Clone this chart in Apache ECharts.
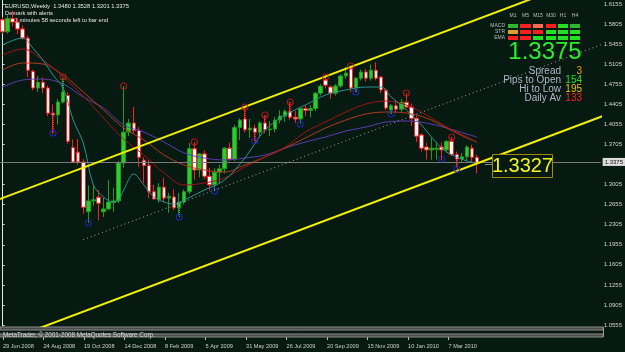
<!DOCTYPE html>
<html>
<head>
<meta charset="utf-8">
<script src="https://cdn.jsdelivr.net/npm/echarts@6/dist/echarts.min.js"></script>
<style>
html,body{margin:0;padding:0;background:#061a12;}
#chart{width:625px;height:352px;}
</style>
</head>
<body>
<div id="chart"></div>
<script>
// ---------------- DATA ----------------
const symbolTitle = 'EURUSD,Weekly  1.3480 1.3528 1.3201 1.3375';
const indicatorName = 'Demark with alerts';
const timerText = '3 h 1 minutes 58 seconds left to bar end';
const copyrightText = 'MetaTrader, \u00A9 2001-2008 MetaQuotes Software Corp.';

const xTickLabels = ['29 Jun 2008','24 Aug 2008','19 Oct 2008','14 Dec 2008','8 Feb 2009','5 Apr 2009',
  '31 May 2009','26 Jul 2009','20 Sep 2009','15 Nov 2009','10 Jan 2010','7 Mar 2010'];
const xTickEvery = 8;
const yTickLabels = ['1.6155','1.5805','1.5455','1.5105','1.4755','1.4405','1.4055','1.3705',
  '1.3005','1.2655','1.2305','1.1955','1.1605','1.1255','1.0905','1.0555'];

const opens = [1.5880,1.5670,1.5900,1.5840,1.5720,1.5560,1.4980,1.4690,1.4790,1.4690,
1.4250,1.4220,1.4445,1.4560,1.3650,1.3570,1.3400,1.2530,1.2720,1.2785,
1.2530,1.2580,1.2690,1.2720,1.3380,1.3922,1.4080,1.3950,1.3430,1.3340,
1.2880,1.2740,1.2960,1.2770,1.2790,1.2600,1.2700,1.2880,1.3630,1.3260,
1.3540,1.3150,1.3000,1.3220,1.3280,1.3640,1.3450,1.4000,1.4150,1.3960,
1.3990,1.3920,1.4080,1.3960,1.3975,1.4130,1.4200,1.4280,1.4180,1.4150,
1.4330,1.4300,1.4330,1.4600,1.4830,1.4707,1.4600,1.4725,1.4900,1.5040,
1.4690,1.4860,1.4970,1.4860,1.5000,1.4880,1.4650,1.4306,1.4380,1.4320,
1.4440,1.4360,1.4160,1.3870,1.3660,1.3610,1.3620,1.3660,1.3610,1.3760,
1.3530,1.3450,1.3490,1.3640,1.3480];
const closes = [1.5670,1.5900,1.5840,1.5720,1.5560,1.5000,1.4690,1.4790,1.4690,1.4250,
1.4220,1.4445,1.4620,1.3760,1.3400,1.3400,1.2610,1.2720,1.2740,1.2680,
1.2580,1.2700,1.2720,1.3380,1.3920,1.4080,1.3950,1.3480,1.3340,1.2880,
1.2755,1.2960,1.2770,1.2800,1.2600,1.2700,1.2880,1.3630,1.3260,1.3540,
1.3150,1.3000,1.3220,1.3280,1.3640,1.3450,1.4000,1.4130,1.3960,1.3990,
1.3920,1.4080,1.3960,1.3975,1.4130,1.4200,1.4280,1.4180,1.4150,1.4330,
1.4300,1.4330,1.4600,1.4720,1.4740,1.4602,1.4725,1.4900,1.4950,1.4690,
1.4860,1.4970,1.4860,1.5000,1.4860,1.4655,1.4340,1.4380,1.4320,1.4440,
1.4360,1.4160,1.3850,1.3640,1.3610,1.3640,1.3640,1.3610,1.3760,1.3530,
1.3450,1.3490,1.3660,1.3480,1.3375];
const lows = [1.5640,1.5640,1.5760,1.5630,1.5530,1.4880,1.4650,1.4620,1.4600,1.4200,
1.3890,1.4050,1.4420,1.3720,1.3380,1.3350,1.2500,1.2335,1.2640,1.2380,
1.2440,1.2560,1.2530,1.2680,1.3300,1.3850,1.3900,1.3310,1.3030,1.2770,
1.2740,1.2690,1.2700,1.2510,1.2560,1.2460,1.2660,1.2840,1.3090,1.3130,
1.3100,1.2900,1.2890,1.3030,1.3200,1.3420,1.3420,1.3780,1.3920,1.3820,
1.3760,1.3830,1.3900,1.3850,1.3920,1.4070,1.4100,1.4140,1.4080,1.4060,
1.4200,1.4180,1.4290,1.4560,1.4680,1.4500,1.4560,1.4690,1.4850,1.4620,
1.4620,1.4820,1.4800,1.4820,1.4820,1.4600,1.4300,1.4250,1.4250,1.4260,
1.4330,1.4030,1.3750,1.3580,1.3440,1.3440,1.3440,1.3430,1.3560,1.3500,
1.3300,1.3380,1.3420,1.3400,1.3201];
const highs = [1.5930,1.5960,1.6038,1.5900,1.5780,1.5600,1.5010,1.4900,1.4870,1.4730,
1.4400,1.4500,1.4870,1.4620,1.3790,1.3800,1.3450,1.2990,1.3000,1.2910,
1.2780,1.3085,1.2950,1.3420,1.4725,1.4150,1.4360,1.4010,1.3480,1.3430,
1.3000,1.3030,1.3120,1.2860,1.2920,1.2860,1.2920,1.3730,1.3740,1.3560,
1.3600,1.3300,1.3290,1.3350,1.3660,1.3740,1.4050,1.4160,1.4340,1.4150,
1.4050,1.4110,1.4210,1.4110,1.4180,1.4300,1.4320,1.4445,1.4290,1.4360,
1.4380,1.4390,1.4620,1.4760,1.4880,1.4740,1.4760,1.4930,1.5060,1.5080,
1.4880,1.5010,1.5020,1.5100,1.5140,1.4900,1.4680,1.4410,1.4470,1.4500,
1.4580,1.4420,1.4200,1.3900,1.3730,1.3820,1.3750,1.3740,1.3780,1.3830,
1.3580,1.3560,1.3690,1.3700,1.3528];

// moving averages, read at sample bars
const tealIdx = [0,4,6,8,10,12,14,16,18,20,22,23,24,26,28,30,32,34,36,40,44,48,52,56,60,64,68,72,75,77,80,83,86,88,90,92,94];
const tealMA  = [1.5440,1.5562,1.5387,1.5178,1.4916,1.4690,1.4131,1.3730,1.2998,1.2788,1.2701,1.2736,1.2910,1.3190,1.2998,1.2788,1.2701,1.2666,1.2736,1.2910,1.3085,1.3468,1.3957,1.4219,1.4393,1.4568,1.4655,1.4707,1.4707,1.4533,1.4306,1.4044,1.3730,1.3573,1.3486,1.3416,1.3381];
const slowIdx = [0,4,8,12,16,20,24,28,32,36,40,44,48,52,56,60,64,68,72,76,80,84,88,92,94];
const redMA    = [1.5265,1.5370,1.5178,1.4882,1.4550,1.4166,1.3800,1.3521,1.3207,1.2998,1.3033,1.3120,1.3311,1.3486,1.3660,1.3922,1.4097,1.4271,1.4411,1.4463,1.4393,1.4219,1.4009,1.3835,1.3748];
const brownMA  = [1.5004,1.5126,1.5108,1.4916,1.4620,1.4306,1.3992,1.3783,1.3521,1.3346,1.3259,1.3224,1.3346,1.3486,1.3643,1.3818,1.3992,1.4131,1.4236,1.4271,1.4254,1.4166,1.3992,1.3818,1.3748];
const purpleMA = [1.4707,1.4829,1.4847,1.4760,1.4533,1.4341,1.4044,1.3922,1.3748,1.3556,1.3468,1.3434,1.3468,1.3521,1.3643,1.3748,1.3835,1.3940,1.4009,1.4097,1.4114,1.4079,1.3992,1.3887,1.3835];

// Demark points
const tdHighIdx = [12,24,38,48,52,57,64,69,80,89];
const tdHighVal = [1.4882,1.4725,1.3748,1.4358,1.4219,1.4446,1.4882,1.5074,1.4603,1.3835];
const tdLowIdx  = [10,17,35,42,50,59,70,77,87,90];
const tdLowVal  = [1.3905,1.2335,1.2439,1.2893,1.3765,1.4062,1.4620,1.4236,1.3451,1.3277];

// equidistant channel (bar index, price)
const channelUpper = [[-1,1.2737],[120,1.6748]];
const channelLower = [[-1,1.0225],[120,1.4236]];
const channelMid   = [[16,1.2045],[120,1.5492]];
const channelLabel = '1.3327';

const bid = 1.3375;
const bidText = '1.3375';
const spread = '3', pipsToOpen = '154', hiToLow = '195', dailyAv = '133';
const tfNames = ['M1','M5','M15','M30','H1','H4'];
const rowNames = ['MACD','STR','EMA'];
const signalRows = [
  ['upH','dn','dnL','dn','up','upH'],
  ['warnH','dn','dn','up','up','up'],
  ['dn','dn','up','up','up','up']
];

// ---------------- CHART ----------------
const N = 119;
const categories = Array.from({length: N}, (_, i) => String(i));
const candles = opens.map((o, i) => [o, closes[i], lows[i], highs[i]]);
const pair = (idx, vals) => idx.map((x, i) => [x, vals[i]]);
const FONT = '"Liberation Sans", Arial, sans-serif';
const yTickVals = yTickLabels.map(Number);
const tickShown = (i) => i % xTickEvery === 0 && (i / xTickEvery) < xTickLabels.length;
const BULL = '#2ccc2c', BEAR = '#ff2020';

const connectors = [];
tdHighIdx.forEach((b, k) => connectors.push({coords: [[b, tdHighVal[k]], [b, Math.max(opens[b], closes[b])]],
  lineStyle: {color: closes[b] >= opens[b] ? BULL : BEAR}}));
tdLowIdx.forEach((b, k) => connectors.push({coords: [[b, tdLowVal[k]], [b, Math.min(opens[b], closes[b])]],
  lineStyle: {color: closes[b] >= opens[b] ? BULL : BEAR}}));

const chart = echarts.init(document.getElementById('chart'), null, {renderer: 'canvas'});

function maSeries(idx, vals, color) {
  return {type: 'line', xAxisIndex: 1, yAxisIndex: 0, data: pair(idx, vals), smooth: 0.35,
    showSymbol: false, symbol: 'none', lineStyle: {color, width: 1}, z: 4, silent: true, clip: true};
}
function chanSeries(d, color, width, type) {
  return {type: 'line', xAxisIndex: 1, yAxisIndex: 0, data: d, showSymbol: false, symbol: 'none',
    lineStyle: {color, width, type}, z: 5, silent: true, clip: true};
}

const sigColor = {up: '#22e022', upH: '#2fb82f', dn: '#ff1e1e', dnL: '#ff6a50', warnH: '#e0a028'};
const panel = [];
const colX = [508, 520, 533, 546, 558, 570];
const colW = [10, 11, 10, 10, 10, 10];
const rowY = [24, 30, 36];
tfNames.forEach((t, c) => panel.push({type: 'text', x: colX[c] + colW[c] / 2, y: 16, z: 10,
  style: {text: t, fill: '#bdbdbd', font: '5px ' + FONT, textAlign: 'center', textVerticalAlign: 'middle'}}));
rowNames.forEach((r, k) => panel.push({type: 'text', x: 505, y: rowY[k] + 2, z: 10,
  style: {text: r, fill: '#bdbdbd', font: '5px ' + FONT, textAlign: 'right', textVerticalAlign: 'middle'}}));
signalRows.forEach((row, k) => row.forEach((s, c) => panel.push({type: 'rect', z: 10,
  shape: {x: colX[c], y: rowY[k], width: colW[c], height: 4}, style: {fill: sigColor[s]}})));

const infoRows = [['Spread', spread, '#f0a010'], ['Pips to Open', pipsToOpen, '#22e022'],
  ['Hi to Low', hiToLow, '#f0c000'], ['Daily Av', dailyAv, '#ff2020']];
const infoY = [71, 80.5, 89.5, 98.5];
infoRows.forEach((r, k) => {
  panel.push({type: 'text', x: 561, y: infoY[k], z: 10,
    style: {text: r[0], fill: '#b4b4c8', font: '10px ' + FONT, textAlign: 'right', textVerticalAlign: 'middle'}});
  panel.push({type: 'text', x: 582, y: infoY[k], z: 10,
    style: {text: r[1], fill: r[2], font: '10px ' + FONT, textAlign: 'right', textVerticalAlign: 'middle'}});
});
panel.push({type: 'text', x: 545, y: 52, z: 10,
  style: {text: bidText, fill: '#2cf02c', font: '24px ' + FONT, textAlign: 'center', textVerticalAlign: 'middle'}});

const graphics = [
  {type: 'text', x: 5, y: 6, z: 1, style: {text: symbolTitle, fill: '#e6e6e6', font: '5.8px ' + FONT, textVerticalAlign: 'middle'}},
  {type: 'text', x: 5, y: 13, z: 1, style: {text: indicatorName, fill: '#e6e6e6', font: '5.8px ' + FONT, textVerticalAlign: 'middle'}},
  {type: 'text', x: 5, y: 20.5, z: 1, style: {text: timerText, fill: '#e6e6e6', font: '5.8px ' + FONT, textVerticalAlign: 'middle'}},
  {type: 'rect', z: 1, shape: {x: 0, y: 327, width: 603, height: 3}, style: {fill: '#4a4a4a', stroke: '#8a8a8a', lineWidth: 1}},
  {type: 'rect', z: 1, shape: {x: 0, y: 334, width: 603, height: 3}, style: {fill: '#4a4a4a', stroke: '#8a8a8a', lineWidth: 1}},
  {type: 'line', z: 1, shape: {x1: 603.5, y1: 327, x2: 603.5, y2: 337}, style: {stroke: '#9a9a9a', lineWidth: 1}},
  {type: 'text', x: 3, y: 335, z: 2, style: {text: copyrightText, fill: '#d8d8d8', font: '6.3px ' + FONT, textVerticalAlign: 'middle'}},
  {type: 'line', z: 8, shape: {x1: 485, y1: 164.5, x2: 492, y2: 164.5}, style: {stroke: '#8a8a8a', lineWidth: 1}},
  {type: 'rect', z: 8, shape: {x: 492.5, y: 154.5, width: 60, height: 23}, style: {fill: '#061a12', stroke: '#a08a10', lineWidth: 1}},
  {type: 'text', x: 522.5, y: 166.5, z: 9, style: {text: channelLabel, fill: '#f4f41c', font: '20px ' + FONT, textAlign: 'center', textVerticalAlign: 'middle'}}
].concat(panel);

const option = {
  backgroundColor: '#061a12',
  animation: false,
  textStyle: {fontFamily: FONT},
  grid: [
    {left: 0, right: 22, top: 0, height: 326},
    {left: 0, right: 22, top: 330, height: 6}
  ],
  xAxis: [
    {type: 'category', gridIndex: 0, data: categories, boundaryGap: true, show: false},
    {type: 'value', gridIndex: 0, min: -0.5, max: N - 0.5, show: false},
    {type: 'category', gridIndex: 1, data: categories, boundaryGap: true, position: 'bottom',
      axisLine: {show: false},
      axisTick: {show: true, alignWithLabel: true, interval: tickShown, length: 4, lineStyle: {color: '#bdbdbd'}},
      axisLabel: {show: true, interval: tickShown, formatter: (v, i) => xTickLabels[i / xTickEvery] || '',
        align: 'left', fontSize: 5.6, color: '#d0d0d0', margin: 7, fontFamily: FONT},
      splitLine: {show: false}}
  ],
  yAxis: [
    {type: 'value', gridIndex: 0, position: 'right', min: 1.0538, max: 1.6225,
      splitLine: {show: false},
      axisLine: {show: true, lineStyle: {color: '#e8e8e8', width: 1}},
      axisTick: {show: true, length: 2, customValues: yTickVals, lineStyle: {color: '#e8e8e8'}},
      axisLabel: {show: true, customValues: yTickVals, formatter: (v) => Number(v).toFixed(4),
        fontSize: 6, color: '#cfcfcf', margin: 3, fontFamily: FONT}},
    {type: 'value', gridIndex: 1, show: false}
  ],
  series: [
    {type: 'candlestick', xAxisIndex: 0, yAxisIndex: 0, data: candles, barWidth: 4, z: 3,
      itemStyle: {color: BULL, color0: '#ffffff', borderColor: '#1f9c1f', borderColor0: BEAR, borderWidth: 1},
      markLine: {silent: true, symbol: ['none', 'none'], animation: false,
        lineStyle: {color: '#7a7a7a', type: 'solid', width: 1},
        label: {show: true, position: 'end', formatter: bidText, color: '#101010', backgroundColor: '#dcdcdc',
          fontSize: 6, padding: [1, 2], distance: 2, fontFamily: FONT},
        data: [{yAxis: bid}]}},
    {type: 'lines', coordinateSystem: 'cartesian2d', xAxisIndex: 1, yAxisIndex: 0, data: connectors, z: 3,
      silent: true, lineStyle: {width: 1, type: [1, 1], opacity: 1}},
    maSeries(slowIdx, purpleMA, '#5a3cb0'),
    maSeries(slowIdx, brownMA, '#b23a1c'),
    maSeries(slowIdx, redMA, '#9e1414'),
    maSeries(tealIdx, tealMA, '#2e9090'),
    chanSeries(channelUpper, '#f2f200', 2, 'solid'),
    chanSeries(channelLower, '#f2f200', 2, 'solid'),
    chanSeries(channelMid, '#a8a8a8', 1, [1, 3]),
    {type: 'scatter', xAxisIndex: 1, yAxisIndex: 0, data: pair(tdHighIdx, tdHighVal), symbol: 'circle', symbolSize: 6, z: 6,
      itemStyle: {color: 'rgba(0,0,0,0)', borderColor: '#c81a1a', borderWidth: 1.2}, silent: true},
    {type: 'scatter', xAxisIndex: 1, yAxisIndex: 0, data: pair(tdLowIdx, tdLowVal), symbol: 'circle', symbolSize: 6, z: 6,
      itemStyle: {color: 'rgba(0,0,0,0)', borderColor: '#2626c8', borderWidth: 1.2}, silent: true}
  ],
  graphic: {elements: graphics}
};
chart.setOption(option);
</script>
</body>
</html>
